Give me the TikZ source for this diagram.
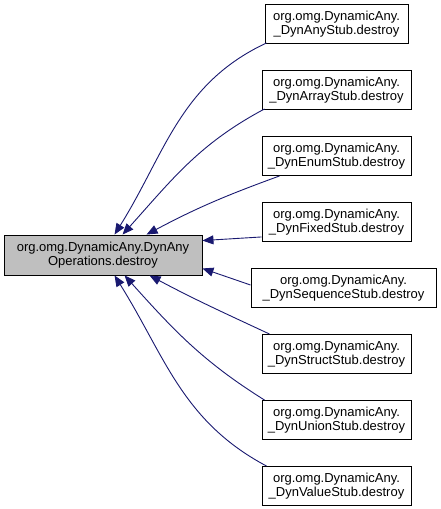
\documentclass[tikz,border=0pt]{standalone}
\usepackage{fontspec}
\setmainfont{Liberation Sans}
\usetikzlibrary{arrows.meta,calc}
\definecolor{edgeblue}{HTML}{191970}
\definecolor{maingray}{HTML}{BFBFBF}
\tikzset{
  box/.style={draw=black, line width=0.9pt, fill=white, align=center, inner sep=0pt,
    minimum height=39pt, font=\fontsize{13}{14.5}\selectfont},
  mainbox/.style={box, fill=maingray, minimum height=40pt},
  edge/.style={draw=edgeblue, line width=0.9pt, -{Triangle[length=11pt,width=9pt]}}
}
\begin{document}
\begin{tikzpicture}[x=1pt,y=-1pt]
\useasboundingbox (0,0) rectangle (440,509);
\node[mainbox, minimum width=198pt] (main) at (103,255) {org.omg.DynamicAny.DynAny\\Operations.destroy};
\node[box, minimum width=143pt] (any) at (336.5,24) {org.omg.DynamicAny.\\\_DynAnyStub.destroy};
\node[box, minimum width=149pt] (array) at (336.5,90) {org.omg.DynamicAny.\\\_DynArrayStub.destroy};
\node[box, minimum width=149pt] (enum) at (336.5,156) {org.omg.DynamicAny.\\\_DynEnumStub.destroy};
\node[box, minimum width=149pt] (fixed) at (336.5,222) {org.omg.DynamicAny.\\\_DynFixedStub.destroy};
\node[box, minimum width=185pt] (seq) at (343.5,288) {org.omg.DynamicAny.\\\_DynSequenceStub.destroy};
\node[box, minimum width=149pt] (struct) at (336.5,354) {org.omg.DynamicAny.\\\_DynStructStub.destroy};
\node[box, minimum width=149pt] (union) at (336.5,420) {org.omg.DynamicAny.\\\_DynUnionStub.destroy};
\node[box, minimum width=149pt] (value) at (336.5,486) {org.omg.DynamicAny.\\\_DynValueStub.destroy};
\draw[edge] ($(any.south west)+(2,-1)$) to[out=205,in=58] ($(main.north west)+(111,0)$);
\draw[edge] ($(array.south west)+(3,-1)$) to[out=208,in=48] ($(main.north west)+(119,0)$);
\draw[edge] ($(enum.south west)+(18,0)$) to[out=200,in=28] ($(main.north west)+(143,0)$);
\draw[edge] ($(fixed.south west)+(0,-5)$) -- ($(main.north east)+(0,6)$);
\draw[edge] ($(seq.west)+(0,-3)$) -- ($(main.south east)+(0,-7)$);
\draw[edge] ($(struct.north west)+(8,0)$) to[out=155,in=-28] ($(main.south west)+(146,0)$);
\draw[edge] ($(union.north west)+(3,0)$) to[out=148,in=-48] ($(main.south west)+(121,0)$);
\draw[edge] ($(value.north west)+(5,0)$) to[out=152,in=-58] ($(main.south west)+(111,0)$);
\end{tikzpicture}
\end{document}
